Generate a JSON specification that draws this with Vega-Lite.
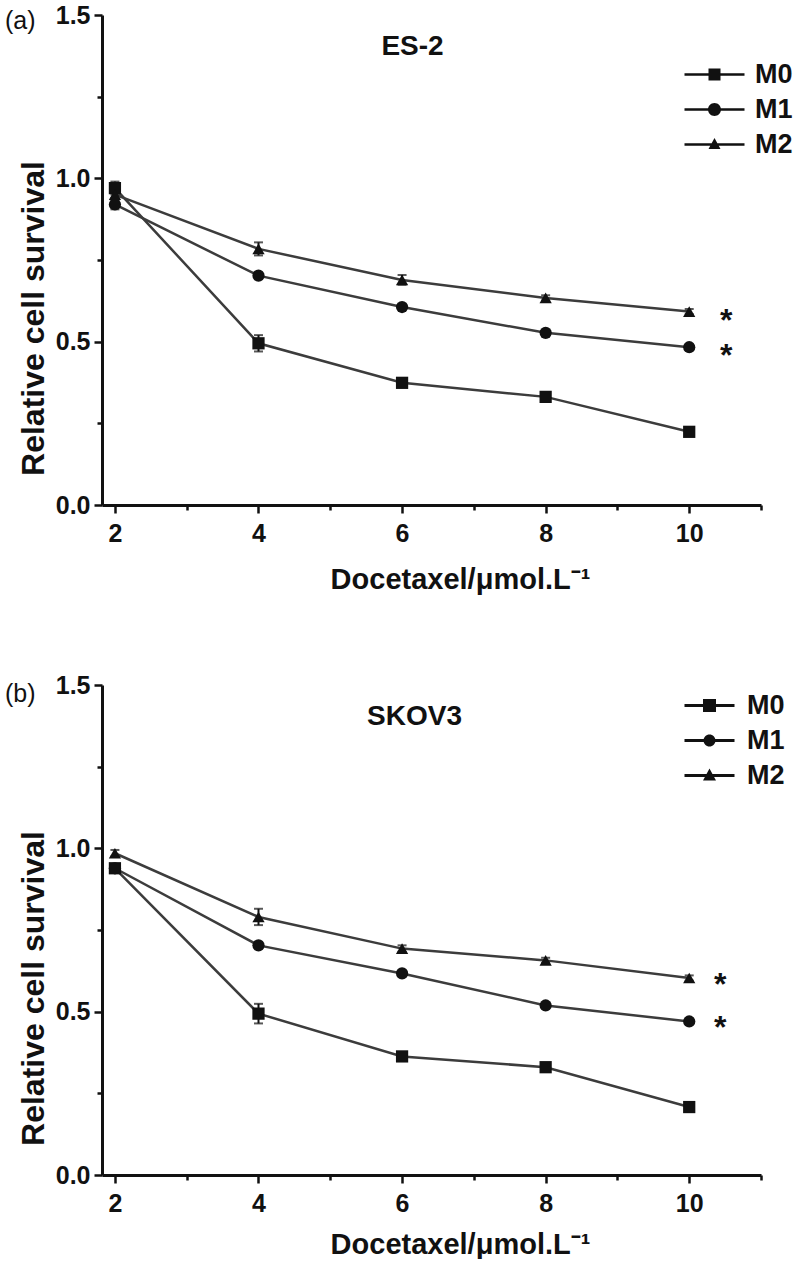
{
  "$schema": "https://vega.github.io/schema/vega-lite/v6.json",
  "background": "white",
  "padding": {"left": 5, "top": 3, "right": 0, "bottom": 0},
  "config": {
    "font": "Liberation Sans",
    "view": {"stroke": null},
    "concat": {"spacing": 79},
    "axis": {
      "grid": false,
      "domainColor": "#111111",
      "domainWidth": 3,
      "tickColor": "#111111",
      "tickWidth": 2.5,
      "labelColor": "#111111",
      "labelFont": "Liberation Sans",
      "labelFontWeight": "bold",
      "labelFontSize": 25,
      "titleColor": "#111111",
      "titleFont": "Liberation Sans",
      "titleFontWeight": "bold"
    }
  },
  "datasets": {
    "es2": [
      {"dose": 2, "group": "M0", "survival": 0.97, "sd": 0.02, "sig": ""},
      {"dose": 4, "group": "M0", "survival": 0.495, "sd": 0.025, "sig": ""},
      {"dose": 6, "group": "M0", "survival": 0.374, "sd": 0.008, "sig": ""},
      {"dose": 8, "group": "M0", "survival": 0.331, "sd": 0.008, "sig": ""},
      {"dose": 10, "group": "M0", "survival": 0.224, "sd": 0.008, "sig": ""},
      {"dose": 2, "group": "M1", "survival": 0.92, "sd": 0.015, "sig": ""},
      {"dose": 4, "group": "M1", "survival": 0.702, "sd": 0.008, "sig": ""},
      {"dose": 6, "group": "M1", "survival": 0.606, "sd": 0.008, "sig": ""},
      {"dose": 8, "group": "M1", "survival": 0.527, "sd": 0.008, "sig": ""},
      {"dose": 10, "group": "M1", "survival": 0.483, "sd": 0.008, "sig": "*"},
      {"dose": 2, "group": "M2", "survival": 0.95, "sd": 0.01, "sig": ""},
      {"dose": 4, "group": "M2", "survival": 0.784, "sd": 0.02, "sig": ""},
      {"dose": 6, "group": "M2", "survival": 0.689, "sd": 0.015, "sig": ""},
      {"dose": 8, "group": "M2", "survival": 0.634, "sd": 0.008, "sig": ""},
      {"dose": 10, "group": "M2", "survival": 0.592, "sd": 0.008, "sig": "*"}
    ],
    "skov3": [
      {"dose": 2, "group": "M0", "survival": 0.939, "sd": 0.01, "sig": ""},
      {"dose": 4, "group": "M0", "survival": 0.494, "sd": 0.03, "sig": ""},
      {"dose": 6, "group": "M0", "survival": 0.363, "sd": 0.008, "sig": ""},
      {"dose": 8, "group": "M0", "survival": 0.33, "sd": 0.008, "sig": ""},
      {"dose": 10, "group": "M0", "survival": 0.208, "sd": 0.008, "sig": ""},
      {"dose": 2, "group": "M1", "survival": 0.939, "sd": 0.008, "sig": ""},
      {"dose": 4, "group": "M1", "survival": 0.703, "sd": 0.008, "sig": ""},
      {"dose": 6, "group": "M1", "survival": 0.617, "sd": 0.008, "sig": ""},
      {"dose": 8, "group": "M1", "survival": 0.519, "sd": 0.008, "sig": ""},
      {"dose": 10, "group": "M1", "survival": 0.47, "sd": 0.008, "sig": "*"},
      {"dose": 2, "group": "M2", "survival": 0.985, "sd": 0.01, "sig": ""},
      {"dose": 4, "group": "M2", "survival": 0.79, "sd": 0.025, "sig": ""},
      {"dose": 6, "group": "M2", "survival": 0.693, "sd": 0.01, "sig": ""},
      {"dose": 8, "group": "M2", "survival": 0.657, "sd": 0.008, "sig": ""},
      {"dose": 10, "group": "M2", "survival": 0.603, "sd": 0.008, "sig": "*"}
    ]
  },
  "vconcat": [
    {
      "title": {"text": "(a)", "anchor": "start", "frame": "bounds", "fontSize": 25, "fontWeight": "normal", "font": "Liberation Sans", "color": "#111111", "baseline": "alphabetic", "offset": -25, "dx": -12, "dy": 26},
      "vconcat": [
        {
          "title": {"text": "ES-2", "frame": "group", "anchor": "middle", "fontSize": 28, "fontWeight": "bold", "font": "Liberation Sans", "color": "#111111", "baseline": "alphabetic", "offset": -42, "dx": -19, "dy": 38},
          "width": 659,
          "height": 490,
          "data": {"name": "es2"},
          "encoding": {
            "x": {"field": "dose", "type": "quantitative", "scale": {"domain": [1.82, 11], "nice": false, "zero": false},
              "axis": {"values": [2, 3, 4, 5, 6, 7, 8, 9, 10, 11], "labelExpr": "datum.value % 2 === 0 ? datum.label : ''", "tickSize": {"condition": {"test": "datum.value % 2 === 1", "value": 5}, "value": 8}, "labelPadding": 8, "title": "Docetaxel/μmol.L⁻¹", "titleFontSize": 29, "titleX": 358, "titleY": 60, "titleAlign": "center", "titleBaseline": "top"}},
            "y": {"field": "survival", "type": "quantitative", "scale": {"domain": [0, 1.5], "nice": false},
              "axis": {"values": [0, 0.25, 0.5, 0.75, 1, 1.25, 1.5], "labelExpr": "datum.value % 0.5 === 0 ? format(datum.value, '.1f') : ''", "tickSize": {"condition": {"test": "datum.value % 0.5 !== 0", "value": 5}, "value": 8}, "labelPadding": 4, "title": "Relative cell survival", "titleFontSize": 32, "titleX": -52, "titleY": 303, "titleAlign": "center", "titleAngle": -90, "titleBaseline": "bottom"}}
          },
          "layer": [
            {"mark": {"type": "line", "color": "#3c3c3c", "strokeWidth": 2.5}, "encoding": {"detail": {"field": "group"}}},
            {"mark": {"type": "errorbar", "color": "#111111", "thickness": 2, "ticks": {"size": 9, "thickness": 2, "color": "#111111"}}, "encoding": {"yError": {"field": "sd"}, "detail": {"field": "group"}}},
            {"mark": {"type": "point", "filled": true, "color": "#111111", "opacity": 1, "size": 150},
              "encoding": {"shape": {"field": "group", "type": "nominal", "scale": {"domain": ["M0", "M1", "M2"], "range": ["square", "circle", "triangle-up"]}, "legend": null}}},
            {"mark": {"type": "point", "filled": true, "color": "#111111", "opacity": 0},
              "encoding": {"shape": {"field": "group", "type": "nominal",
                "scale": {"domain": ["M0", "M1", "M2"], "range": [
                  "M-3,-0.135H3V0.135H-3Z M-0.6,-0.6H0.6V0.6H-0.6Z",
                  "M-3,-0.135H3V0.135H-3Z M-0.65,0A0.65,0.65 0 1,1 0.65,0A0.65,0.65 0 1,1 -0.65,0Z",
                  "M-3,-0.135H3V0.135H-3Z M0,-0.66L0.6,0.45L-0.6,0.45Z"]},
                "legend": {"title": null, "orient": "none", "legendX": 599, "legendY": 46, "symbolSize": 400, "symbolOpacity": 1, "symbolStrokeWidth": 0, "symbolFillColor": "#111111", "labelFontSize": 27, "labelFontWeight": "bold", "labelFont": "Liberation Sans", "labelColor": "#111111", "labelOffset": 27, "rowPadding": 7}}}},
            {"transform": [{"filter": "datum.sig !== ''"}],
              "mark": {"type": "text", "fontSize": 32, "fontWeight": "bold", "font": "Liberation Sans", "color": "#111111", "baseline": "alphabetic", "align": "center", "dx": 37, "dy": 19},
              "encoding": {"text": {"field": "sig"}}}
          ],
          "resolve": {"scale": {"shape": "independent"}}
        }
      ]
    },
    {
      "title": {"text": "(b)", "anchor": "start", "frame": "bounds", "fontSize": 25, "fontWeight": "normal", "font": "Liberation Sans", "color": "#111111", "baseline": "alphabetic", "offset": -25, "dx": -12, "dy": 29},
      "vconcat": [
        {
          "title": {"text": "SKOV3", "frame": "group", "anchor": "middle", "fontSize": 28, "fontWeight": "bold", "font": "Liberation Sans", "color": "#111111", "baseline": "alphabetic", "offset": -40, "dx": -17, "dy": 40},
          "width": 659,
          "height": 490,
          "data": {"name": "skov3"},
          "encoding": {
            "x": {"field": "dose", "type": "quantitative", "scale": {"domain": [1.82, 11], "nice": false, "zero": false},
              "axis": {"values": [2, 3, 4, 5, 6, 7, 8, 9, 10, 11], "labelExpr": "datum.value % 2 === 0 ? datum.label : ''", "tickSize": {"condition": {"test": "datum.value % 2 === 1", "value": 5}, "value": 8}, "labelPadding": 8, "title": "Docetaxel/μmol.L⁻¹", "titleFontSize": 29, "titleX": 358, "titleY": 55, "titleAlign": "center", "titleBaseline": "top"}},
            "y": {"field": "survival", "type": "quantitative", "scale": {"domain": [0, 1.5], "nice": false},
              "axis": {"values": [0, 0.25, 0.5, 0.75, 1, 1.25, 1.5], "labelExpr": "datum.value % 0.5 === 0 ? format(datum.value, '.1f') : ''", "tickSize": {"condition": {"test": "datum.value % 0.5 !== 0", "value": 5}, "value": 8}, "labelPadding": 4, "title": "Relative cell survival", "titleFontSize": 32, "titleX": -52, "titleY": 303, "titleAlign": "center", "titleAngle": -90, "titleBaseline": "bottom"}}
          },
          "layer": [
            {"mark": {"type": "line", "color": "#3c3c3c", "strokeWidth": 2.5}, "encoding": {"detail": {"field": "group"}}},
            {"mark": {"type": "errorbar", "color": "#111111", "thickness": 2, "ticks": {"size": 9, "thickness": 2, "color": "#111111"}}, "encoding": {"yError": {"field": "sd"}, "detail": {"field": "group"}}},
            {"mark": {"type": "point", "filled": true, "color": "#111111", "opacity": 1, "size": 150},
              "encoding": {"shape": {"field": "group", "type": "nominal", "scale": {"domain": ["M0", "M1", "M2"], "range": ["square", "circle", "triangle-up"]}, "legend": null}}},
            {"mark": {"type": "point", "filled": true, "color": "#111111", "opacity": 0},
              "encoding": {"shape": {"field": "group", "type": "nominal",
                "scale": {"domain": ["M0", "M1", "M2"], "range": [
                  "M-2.5,-0.15H2.5V0.15H-2.5Z M-0.65,-0.65H0.65V0.65H-0.65Z",
                  "M-2.5,-0.15H2.5V0.15H-2.5Z M-0.6,0A0.6,0.6 0 1,1 0.6,0A0.6,0.6 0 1,1 -0.6,0Z",
                  "M-2.5,-0.15H2.5V0.15H-2.5Z M0,-0.7L0.65,0.5L-0.65,0.5Z"]},
                "legend": {"title": null, "orient": "none", "legendX": 594, "legendY": 7, "symbolSize": 400, "symbolOpacity": 1, "symbolStrokeWidth": 0, "symbolFillColor": "#111111", "labelFontSize": 27, "labelFontWeight": "bold", "labelFont": "Liberation Sans", "labelColor": "#111111", "labelOffset": 24, "rowPadding": 7}}}},
            {"transform": [{"filter": "datum.sig !== ''"}],
              "mark": {"type": "text", "fontSize": 32, "fontWeight": "bold", "font": "Liberation Sans", "color": "#111111", "baseline": "alphabetic", "align": "center", "dx": 31, "dy": 17},
              "encoding": {"text": {"field": "sig"}}}
          ],
          "resolve": {"scale": {"shape": "independent"}}
        }
      ]
    }
  ]
}
